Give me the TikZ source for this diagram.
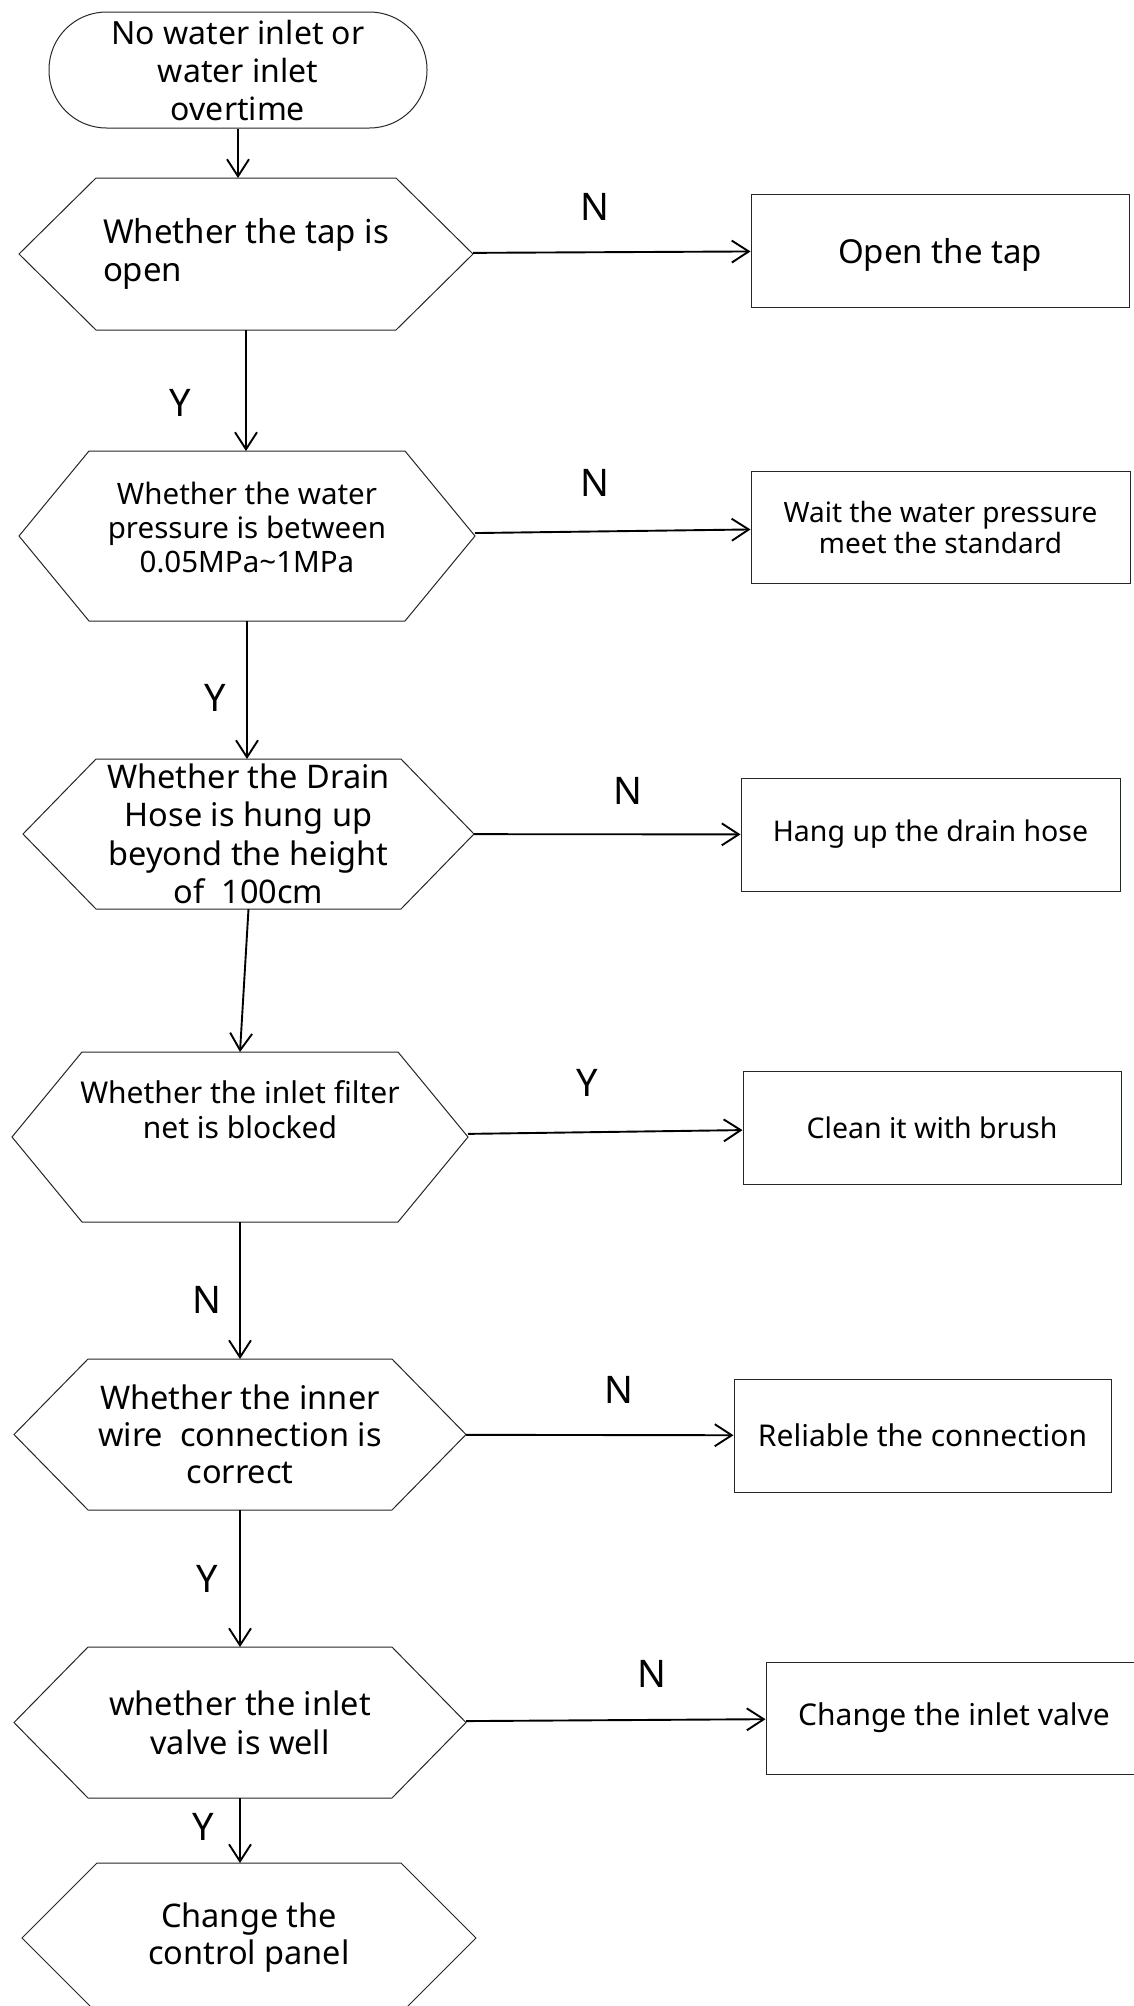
\documentclass[tikz,border=0pt]{standalone}
\usepackage{fontspec}
\setmainfont{Noto Sans}
\usepackage{tikz}
\usetikzlibrary{arrows.meta, calc}
\newcommand{\fsz}[2]{\fontsize{#1pt}{#2pt}\selectfont}
\tikzstyle{arr} = [-{Straight Barb[length=17pt,width=22pt]}, line width=1.9pt]

\begin{document}
\begin{tikzpicture}[x=1pt, y=-1pt,
  shapeline/.style={draw=black!85, line width=1pt},
  term/.style={rectangle, shapeline, rounded corners=57.5pt, minimum width=378pt,
               minimum height=116pt, align=center, font=\fsz{32}{38}},
  hexa/.style={rectangle, outer sep=0pt, inner sep=0pt, align=center,
               font=\fsz{32.5}{37},
               append after command={\pgfextra{\draw[shapeline]
                 ($(\tikzlastnode.north west)+(#1,0)$) -- ($(\tikzlastnode.north east)+(-#1,0)$)
                 -- (\tikzlastnode.east) -- ($(\tikzlastnode.south east)+(-#1,0)$)
                 -- ($(\tikzlastnode.south west)+(#1,0)$) -- (\tikzlastnode.west) -- cycle;}}},
  box/.style={rectangle, shapeline, minimum width=378pt, minimum height=113pt,
              align=center, font=\fsz{28.5}{32}},
  lbl/.style={inner sep=0pt, font=\fsz{38}{40}}
]
  \path[use as bounding box, fill=white] (0,0) rectangle (1133,2006);

  % main column
  \node[term] (st) at (238,70) {No water inlet or\\water inlet\\overtime};
  \node[hexa=77, minimum width=454pt, minimum height=152pt, align=left,
        font=\fsz{33}{38}] (h1) at (246,254) {Whether the tap is\\open};
  \node[hexa=70, minimum width=456pt, minimum height=170pt, text depth=18pt,
        font=\fsz{29.5}{34}] (h2) at (247,536) {Whether the water\\pressure is between\\0.05MPa\textasciitilde1MPa};
  \node[hexa=73, minimum width=451pt, minimum height=150pt,
        font=\fsz{32.5}{38.5}] (h3) at (248.5,834) {Whether the Drain\\Hose is hung up\\beyond the height\\of~~100cm};
  \node[hexa=70, minimum width=456pt, minimum height=170pt, text depth=54pt,
        font=\fsz{30}{35}] (h4) at (240,1137) {Whether the inlet filter\\net is blocked};
  \node[hexa=74, minimum width=452pt, minimum height=151pt] (h5) at (240,1434.5) {Whether the inner\\wire~~connection is\\correct};
  \node[hexa=74, minimum width=452pt, minimum height=151pt,
        font=\fsz{32.5}{39}] (h6) at (240,1722.5) {whether the inlet\\valve is well};
  \node[hexa=75, minimum width=454pt, minimum height=150pt] (h7) at (249,1938) {Change the\\control panel};

  % actions
  \node[box, font=\fsz{33}{38}, text height=33pt] (b1) at (940,250.5) {Open the tap};
  \node[box, minimum width=379pt, minimum height=112pt, font=\fsz{28}{31}] (b2) at (940.5,527) {Wait the water pressure\\meet the standard};
  \node[box, minimum width=379pt] (b3) at (930.5,834.5) {Hang up the drain hose};
  \node[box] (b4) at (932,1127.5) {Clean it with brush};
  \node[box, minimum width=377pt, font=\fsz{30}{34}] (b5) at (922.5,1435.5) {Reliable the connection};
  \node[box, minimum width=376pt, minimum height=112pt, font=\fsz{30}{34}] (b6) at (954,1718) {Change the inlet valve};

  % labels
  \node[lbl] (n1) at (595,207) {N};
  \node[lbl] (y1) at (180,403) {Y};
  \node[lbl] (n2) at (595,483) {N};
  \node[lbl] (y2) at (215,698) {Y};
  \node[lbl] (n3) at (628,791) {N};
  \node[lbl] (y3) at (587,1083) {Y};
  \node[lbl] (n4) at (207,1300) {N};
  \node[lbl] (n5) at (619,1390) {N};
  \node[lbl] (y4) at (207,1579) {Y};
  \node[lbl] (n6) at (652,1674) {N};
  \node[lbl] (y5) at (203,1827) {Y};

  \draw[arr] (st) -- (st |- h1.north);
  \draw[arr] (h1.south) -- (h1.south |- h2.north);
  \draw[arr] (h2.south) -- (h2.south |- h3.north);
  \draw[arr] (h3.south) -- (h4.north);
  \draw[arr] (h4.south) -- (h4.south |- h5.north);
  \draw[arr] (h5.south) -- (h5.south |- h6.north);
  \draw[arr] (h6.south) -- (h6.south |- h7.north);
  \draw[arr] (h1) -- (b1); \draw[arr] (h2) -- (b2); \draw[arr] (h3) -- (b3);
  \draw[arr] (h4) -- (b4); \draw[arr] (h5) -- (b5); \draw[arr] (h6) -- (b6);
\end{tikzpicture}
\end{document}
